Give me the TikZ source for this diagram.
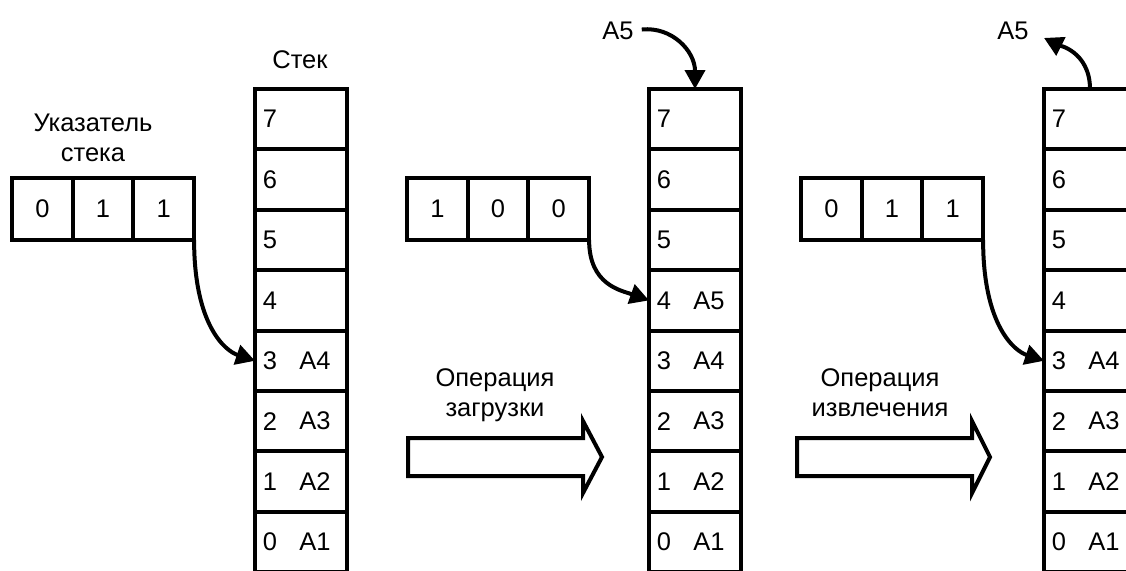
\documentclass[tikz,border=0pt]{standalone}
\usepackage{fontspec}
\setmainfont{Liberation Sans}
\usetikzlibrary{arrows.meta}
\begin{document}
\begin{tikzpicture}[x=1pt,y=-1pt,
  lw/.style={line width=4pt},
  cellbox/.style={draw, lw, minimum width=92pt, minimum height=60.4pt, inner sep=0pt, outer sep=0pt},
  regbox/.style={draw, lw, minimum width=60.7pt, minimum height=62pt, inner sep=0pt, outer sep=0pt, font=\fontsize{25.5}{30}\selectfont},
  txt/.style={font=\fontsize{25.5}{30}\selectfont, inner sep=0pt, anchor=base},
  celltxt/.style={font=\fontsize{25.5}{30}\selectfont, inner sep=0pt},
  ptr/.style={lw, -{Triangle[length=19pt,width=20pt]}},
  bigarrow/.style={lw, line join=miter, fill=white}
]
\useasboundingbox (0,0) rectangle (1126,570);
\clip (0,0) rectangle (1126,570);

% stacks
\foreach \s/\L/\t in {1/255/3, 2/649/4, 3/1044/3} {
  \foreach \k in {0,...,7} {
    \node[cellbox] (s\s-\k) at ({\L+46}, {89+(7-\k)*60.4+30.2}) {};
    \node[celltxt] (s\s-n\k) at ({\L+15}, {89+(7-\k)*60.4+30.2}) {\k};
  }
  \foreach \k in {0,...,\t} {
    \pgfmathtruncatemacro\a{\k+1}
    \node[celltxt] (s\s-a\k) at ({\L+60}, {89+(7-\k)*60.4+30.2}) {A\a};
  }
}

% registers
\foreach \r/\L/\da/\db/\dc in {1/12/0/1/1, 2/407/1/0/0, 3/801/0/1/1} {
  \node[regbox] (r\r-1) at ({\L+30.35}, 209) {\da};
  \node[regbox] (r\r-2) at ({\L+91.05}, 209) {\db};
  \node[regbox] (r\r-3) at ({\L+151.75}, 209) {\dc};
}

% labels
\node[txt] (stek) at (300,68) {Стек};
\node[txt] (ukaz1) at (93,131) {Указатель};
\node[txt] (ukaz2) at (93,161) {стека};
\node[txt] (op1a) at (495,386) {Операция};
\node[txt] (op1b) at (495,416) {загрузки};
\node[txt] (op2a) at (880,386) {Операция};
\node[txt] (op2b) at (880,416) {извлечения};
\node[txt] (a5in) at (618,39) {A5};
\node[txt] (a5out) at (1013,39) {A5};

% pointer arrows
\draw[ptr] (r1-3.south east) .. controls +(0,85) and +(-30,-10) .. (s1-3.west);
\draw[ptr] (r2-3.south east) .. controls +(0,45) and +(-28,-10) .. (s2-4.west);
\draw[ptr] (r3-3.south east) .. controls +(0,85) and +(-30,-10) .. (s3-3.west);

% push / pop arrows
\draw[ptr, shorten <=8pt] (a5in.east) .. controls +(38,-4) and +(0,-38) .. (s2-7.north);
\draw[ptr, shorten >=17pt] (s3-7.north) .. controls +(0,-38) and +(28,14) .. (a5out.east);

% big hollow arrows
\draw[bigarrow] (408,438) -- (583,438) -- (583,421) -- (602,457) -- (583,493) -- (583,476) -- (408,476) -- cycle;
\draw[bigarrow] (797,438) -- (972,438) -- (972,421) -- (990,457) -- (972,493) -- (972,476) -- (797,476) -- cycle;
\end{tikzpicture}
\end{document}
